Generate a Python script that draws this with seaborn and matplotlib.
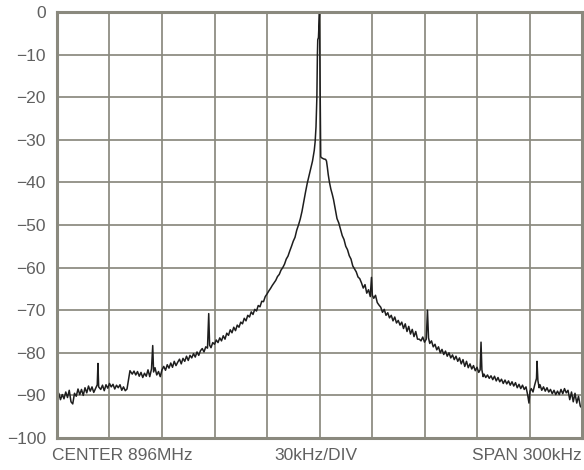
import numpy as np
import pandas as pd
import matplotlib
matplotlib.use("Agg")
import matplotlib.pyplot as plt
import seaborn as sns

# Frequency offset from center (kHz) and level (dB)
freq_left = [-150, -149, -148, -147, -146, -145, -144, -143, -142, -141, -140, -139, -138, -137,
             -136, -135, -134, -133, -132, -131, -130, -129, -128, -127, -126.6, -126.2, -125,
             -124, -123, -122, -121, -120, -119, -118, -117, -116, -115, -114, -113, -112, -111,
             -110, -109, -108.3, -107, -106, -105, -104, -103, -102, -101, -100, -99, -98, -97,
             -96, -95.3, -94.8, -94, -93, -92, -91, -90, -89, -88, -87, -86, -85, -84, -83, -82,
             -81, -80, -79, -78, -77, -76, -75, -74, -73, -72, -71, -70, -69, -68, -67, -66, -65,
             -64, -63.3, -62.8, -62, -61, -60, -59, -58, -57, -56, -55, -54, -53, -52, -51, -50,
             -49, -48, -47, -46, -45, -44, -43, -42, -41, -40, -39, -38, -37, -36, -35, -34, -33,
             -32, -31, -30, -29, -28, -27, -26, -25, -24, -23, -22, -21, -20, -19, -18, -17, -16,
             -15, -14, -13, -12, -11, -10, -9, -8, -7, -6, -5, -4, -3, -2.5, -2, -1.5, -1.2, -1.0,
             -0.6, -0.3, 0]
level_left = [-90.5, -89.5, -91.0, -89.8, -90.8, -89.2, -90.5, -88.8, -91.5, -92.0, -89.5, -90.2,
              -88.5, -89.8, -88.6, -90.0, -88.2, -89.4, -87.8, -89.0, -88.0, -89.3, -88.4, -87.5,
              -82.5, -88.0, -88.6, -87.6, -88.9, -87.5, -88.3, -87.2, -88.0, -87.4, -88.5, -87.6,
              -88.2, -87.5, -88.8, -88.0, -88.9, -88.5, -86.0, -84.2, -85.0, -84.3, -85.2, -84.4,
              -85.5, -84.6, -85.8, -84.8, -85.5, -84.0, -85.6, -83.8, -78.3, -84.5, -83.5, -85.2,
              -84.4, -85.6, -84.0, -83.2, -84.1, -82.8, -83.6, -82.4, -83.4, -82.0, -83.0, -82.2,
              -81.5, -82.6, -81.3, -82.0, -80.8, -81.8, -80.6, -81.2, -80.2, -81.0, -79.8, -80.6,
              -79.5, -79.0, -79.8, -78.6, -78.9, -70.8, -78.2, -78.8, -77.6, -78.0, -77.0, -77.6,
              -76.5, -77.2, -76.0, -76.8, -75.4, -75.9, -74.6, -75.3, -74.0, -74.8, -73.5, -74.0,
              -72.8, -73.2, -71.9, -72.5, -71.2, -71.6, -70.4, -71.0, -69.8, -70.2, -68.9, -69.2,
              -67.9, -68.0, -66.8, -66.2, -65.5, -64.9, -64.2, -63.6, -63.0, -62.1, -61.6, -60.6,
              -60.0, -59.2, -58.0, -57.3, -56.1, -55.0, -53.8, -52.9, -51.2, -50.0, -48.6, -46.8,
              -44.5, -42.3, -40.2, -38.5, -36.9, -35.0, -32.5, -30.5, -27.0, -20.0, -10.0, -6.5,
              -6.0, -3.0, 0.0]

freq_right = [0.4, 0.7, 1.5, 2.5, 3.5, 4.0, 4.5, 5.0, 5.7, 6.5, 7.3, 8, 9, 10, 11, 12, 13, 14, 15,
              16, 17, 18, 19, 20, 21, 22, 23, 24, 25, 26, 27, 28, 29, 29.7, 30.2, 31, 32, 33, 34,
              35, 36, 37, 38, 39, 40, 41, 42, 43, 44, 45, 46, 47, 48, 49, 50, 51, 52, 53, 54, 55,
              56, 57, 58, 59, 60, 61, 61.7, 62.3, 63, 64, 65, 66, 67, 68, 69, 70, 71, 72, 73, 74,
              75, 76, 77, 78, 79, 80, 81, 82, 83, 84, 85, 86, 87, 88, 89, 90, 91, 91.8, 92.3, 92.8,
              93.5, 94, 95, 96, 97, 98, 99, 100, 101, 102, 103, 104, 105, 106, 107, 108, 109, 110,
              111, 112, 113, 114, 115, 116, 117, 118, 119, 119.7, 120.3, 121, 122, 123, 124, 124.3,
              124.8, 125.5, 126, 127, 128, 129, 130, 131, 132, 133, 134, 135, 136, 137, 138, 139,
              140, 141, 142, 143, 144, 145, 146, 147, 148, 149, 150]
level_right = [-20.0, -34.0, -34.3, -34.5, -34.6, -35.0, -36.5, -38.2, -40.0, -41.6, -42.8, -44.0,
               -46.3, -48.5, -49.5, -51.0, -52.5, -53.4, -55.0, -55.8, -57.2, -58.0, -59.6, -60.3,
               -61.0, -62.2, -62.6, -63.6, -64.8, -64.0, -66.0, -65.2, -66.8, -62.3, -66.5, -67.2,
               -66.5, -68.2, -68.8, -69.3, -70.5, -69.8, -71.2, -70.6, -71.8, -71.2, -72.5, -71.6,
               -73.0, -72.4, -73.5, -72.8, -74.3, -73.2, -75.0, -73.8, -75.6, -74.5, -76.2, -75.0,
               -76.8, -76.8, -77.2, -76.3, -77.5, -76.8, -70.0, -76.5, -77.8, -77.2, -78.6, -78.0,
               -79.3, -78.6, -80.0, -79.2, -80.4, -79.6, -80.8, -80.0, -81.2, -80.5, -81.6, -80.8,
               -82.0, -81.2, -82.6, -81.6, -83.2, -82.0, -83.5, -82.6, -83.8, -83.0, -84.2, -83.4,
               -84.6, -84.0, -77.5, -84.0, -85.6, -85.0, -85.8, -85.2, -86.0, -85.4, -86.3, -85.5,
               -86.6, -85.8, -86.8, -86.2, -87.2, -86.4, -87.3, -86.6, -87.6, -86.8, -87.8, -87.0,
               -88.2, -87.4, -88.4, -87.6, -88.6, -88.0, -90.0, -91.8, -89.0, -88.4, -89.2, -87.5,
               -86.0, -82.0, -86.5, -88.2, -87.5, -88.8, -88.0, -89.0, -88.2, -89.2, -88.6, -89.6,
               -88.8, -89.8, -89.0, -89.8, -88.6, -89.6, -88.4, -89.4, -88.8, -91.0, -89.2, -91.5,
               -89.5, -91.8, -90.2, -92.5, -93.0]

y_ticks = [0, -10, -20, -30, -40, -50, -60, -70, -80, -90, -100]
y_tick_labels = ["0", "\u221210", "\u221220", "\u221230", "\u221240", "\u221250",
                 "\u221260", "\u221270", "\u221280", "\u221290", "\u2212100"]
x_grid = [-150, -120, -90, -60, -30, 0, 30, 60, 90, 120, 150]
bottom_labels = ["CENTER 896MHz", "30kHz/DIV", "SPAN 300kHz"]

df = pd.DataFrame({"freq": freq_left + freq_right, "level": level_left + level_right})

sns.set_theme(style="white")
plt.rcParams["font.family"] = ["Liberation Sans", "DejaVu Sans"]

W, H = 584, 470
fig = plt.figure(figsize=(W / 100, H / 100), dpi=100)
ax = fig.add_axes([57 / W, 1 - 438 / H, (582 - 57) / W, (438 - 12) / H])

grid_c = "#8a897e"
txt_c = "#606060"
sns.lineplot(data=df, x="freq", y="level", ax=ax, color="#1e1e1e", linewidth=1.1,
             sort=False, estimator=None)

ax.set_xlim(-150, 150)
ax.set_ylim(-100, 0)
ax.set_xticks(x_grid)
ax.set_xticklabels([])
ax.set_yticks(y_ticks)
ax.set_yticklabels(y_tick_labels)
ax.tick_params(axis="both", length=0, pad=8)
ax.tick_params(axis="y", labelsize=12.5, labelcolor=txt_c)
ax.grid(True, color=grid_c, linewidth=1.25)
ax.set_axisbelow(True)
for s in ax.spines.values():
    s.set_color(grid_c)
    s.set_linewidth(2.2)
    s.set_visible(True)
ax.set_xlabel("")
ax.set_ylabel("")

ty = 1 - 455 / H
fig.text(52 / W, ty, bottom_labels[0], ha="left", va="center", fontsize=12.5, color=txt_c)
fig.text(316 / W, ty, bottom_labels[1], ha="center", va="center", fontsize=12.5, color=txt_c)
fig.text(582 / W, ty, bottom_labels[2], ha="right", va="center", fontsize=12.5, color=txt_c)

fig.savefig("out.png", dpi=100)
